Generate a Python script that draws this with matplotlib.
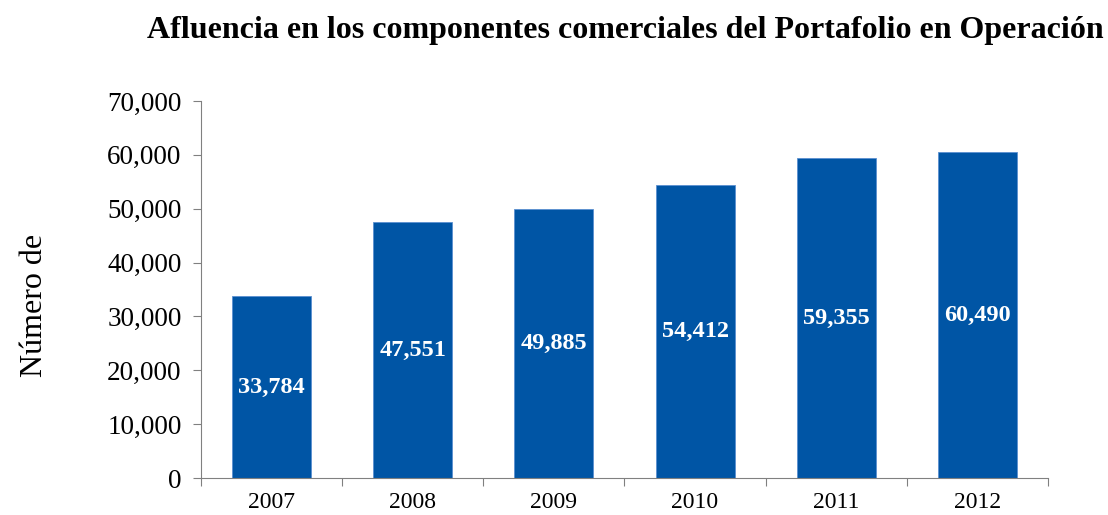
import numpy as np
import matplotlib.pyplot as plt
from matplotlib.ticker import FuncFormatter

years = ['2007', '2008', '2009', '2010', '2011', '2012']
visitors = [33784, 47551, 49885, 54412, 59355, 60490]

plt.rcParams['font.family'] = ['Liberation Serif', 'DejaVu Serif']

fig = plt.figure(figsize=(11.08, 5.15), dpi=100)
ax = fig.add_axes([0.1814, 0.0718, 0.7644, 0.7321])

x = np.arange(len(years))
bars = ax.bar(x, visitors, width=0.56, color='#0055A5', edgecolor='#5b8fd0', linewidth=0.6)

for xi, v in zip(x, visitors):
    ax.text(xi, v / 2, f'{v:,}', ha='center', va='center', color='white',
            fontsize=17.5, fontweight='bold')

ax.set_xlim(-0.5, len(years) - 0.5)
ax.set_ylim(0, 70000)
ax.set_yticks(np.arange(0, 70001, 10000))
ax.yaxis.set_major_formatter(FuncFormatter(lambda v, p: f'{int(v):,}'))

# category boundaries as major ticks, labels on minor ticks
ax.set_xticks(np.arange(-0.5, len(years), 1.0))
ax.set_xticklabels([])
ax.set_xticks(x, minor=True)
ax.set_xticklabels(years, minor=True)
ax.tick_params(axis='x', which='minor', length=0, labelsize=17, pad=10)
ax.tick_params(axis='x', which='major', length=6, color='#808080')
ax.tick_params(axis='y', length=6, color='#808080', labelsize=19.5, pad=8)

for s in ['top', 'right']:
    ax.spines[s].set_visible(False)
for s in ['left', 'bottom']:
    ax.spines[s].set_color('#808080')

ax.set_ylabel('Número de', fontsize=23)
ax.yaxis.set_label_coords(-0.18, 0.457)

fig.text(0.564, 0.94, 'Afluencia en los componentes comerciales del Portafolio en Operación',
         ha='center', va='center', fontsize=23, fontweight='bold')

fig.savefig('out.png', dpi=100)
